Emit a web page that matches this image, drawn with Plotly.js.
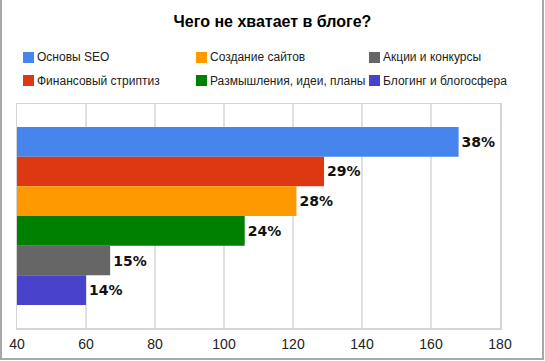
<!DOCTYPE html>
<html>
<head>
<meta charset="utf-8">
<script src="https://cdn.plot.ly/plotly-3.0.1.min.js"></script>
<style>
  html, body { margin: 0; padding: 0; background: #fff; }
  #wrap { position: relative; width: 545px; height: 361px; }
  #chart { width: 545px; height: 361px; }
  #frame { position: absolute; left: 0; top: -3px; width: 540px; height: 359px;
           border: 2px solid #a9a9a9; pointer-events: none; }
</style>
</head>
<body>
<div id="wrap"><div id="chart"></div><div id="frame"></div></div>
<script>
const categories = ["Основы SEO", "Финансовый стриптиз", "Создание сайтов",
                    "Размышления, идеи, планы", "Акции и конкурсы", "Блогинг и блогосфера"];
const values = [168, 129, 121, 106, 67, 60];
const percentLabels = ["38%", "29%", "28%", "24%", "15%", "14%"];
const colors = ["#4684EE", "#DC3912", "#FF9900", "#008000", "#666666", "#4942CC"];
const xTicks = [40, 60, 80, 100, 120, 140, 160, 180];

const W = 545, H = 361;
const M = { l: 17, r: 45, t: 104, b: 33 };
const plotW = W - M.l - M.r, plotH = H - M.t - M.b;
const toPaperX = px => (px - M.l) / plotW;
const toPaperY = py => (H - M.b - py) / plotH;

const traces = categories.map((name, i) => ({
  type: "bar",
  orientation: "h",
  name: name,
  x: [values[i]],
  y: ["Ответы"],
  text: [percentLabels[i]],
  textposition: "outside",
  textfont: { family: "DejaVu Sans", size: 14, weight: "bold", color: "#111" },
  marker: { color: colors[i], line: { width: 0 } },
  showlegend: false,
  hoverinfo: "skip"
}));

// legend laid out in 3 columns x 2 rows (column-major, as in the reference)
const legendColX = [23, 196, 369];
const legendRowY = [57.5, 80.5];
const sq = 11;
const legendShapes = categories.map((name, i) => {
  const cx = legendColX[Math.floor(i / 2)], cy = legendRowY[i % 2];
  return {
    type: "rect", xref: "paper", yref: "paper",
    x0: toPaperX(cx), x1: toPaperX(cx + sq),
    y0: toPaperY(cy + sq / 2), y1: toPaperY(cy - sq / 2),
    fillcolor: colors[i], line: { width: 0 }, layer: "above"
  };
});
const legendLabels = categories.map((name, i) => {
  const cx = legendColX[Math.floor(i / 2)], cy = legendRowY[i % 2];
  return {
    text: name, xref: "paper", yref: "paper",
    x: toPaperX(cx + sq + 1), y: toPaperY(cy),
    xanchor: "left", yanchor: "middle", showarrow: false,
    font: { family: "Liberation Sans, Arial", size: 12, color: "#222" }
  };
});

const layout = {
  width: W, height: H,
  margin: { l: M.l, r: M.r, t: M.t, b: M.b, pad: 0 },
  paper_bgcolor: "#fff",
  plot_bgcolor: "#fff",
  showlegend: false,
  title: {
    text: "Чего не хватает в блоге?",
    font: { family: "Liberation Sans, Arial", size: 16, weight: "bold", color: "#000" },
    xref: "container", yref: "container",
    x: 0.5, xanchor: "center",
    y: 1 - 21 / H, yanchor: "middle"
  },
  barmode: "group",
  bargap: 0.205,
  bargroupgap: 0,
  shapes: legendShapes,
  annotations: legendLabels,
  xaxis: {
    range: [40, 180],
    autorange: false,
    tickvals: xTicks,
    ticktext: xTicks.map(String),
    showgrid: true,
    gridcolor: "#e0e0e0",
    gridwidth: 1.5,
    zeroline: false,
    showline: true,
    mirror: true,
    linecolor: "#d4d4d4",
    linewidth: 1.5,
    ticks: "",
    ticklabelstandoff: 3,
    automargin: false,
    tickfont: { family: "Liberation Sans, Arial", size: 14, color: "#222" }
  },
  yaxis: {
    type: "category",
    autorange: "reversed",
    showticklabels: false,
    showgrid: false,
    zeroline: false,
    showline: true,
    mirror: true,
    linecolor: "#d4d4d4",
    linewidth: 1.5,
    ticks: "",
    automargin: false
  }
};

Plotly.newPlot("chart", traces, layout, { displayModeBar: false, staticPlot: true });
</script>
</body>
</html>
